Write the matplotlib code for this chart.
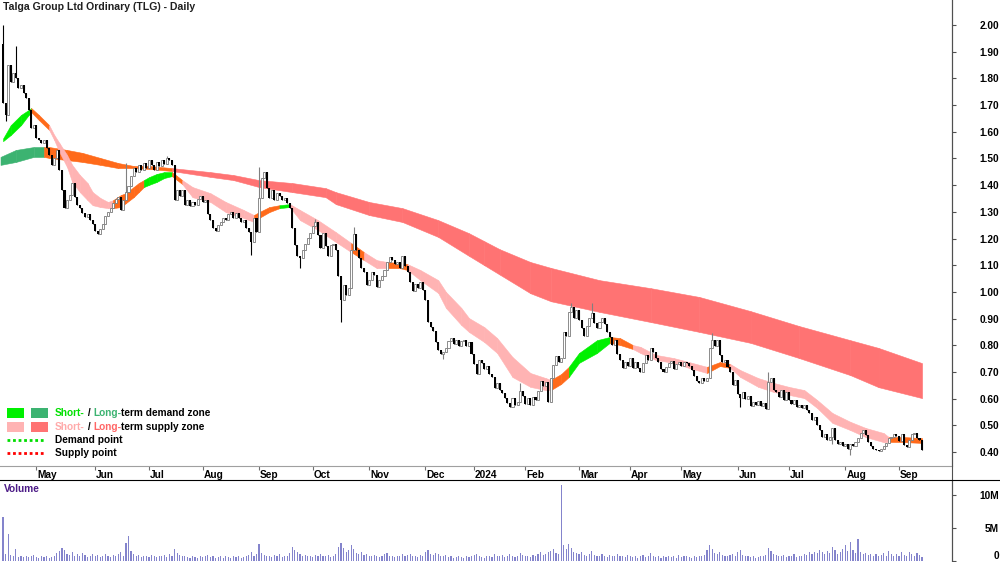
import numpy as np
import matplotlib
matplotlib.use('Agg')
import matplotlib.pyplot as plt
from matplotlib.lines import Line2D
from matplotlib.patches import Rectangle
from matplotlib.transforms import ScaledTranslation

plt.rcParams['font.family'] = ['Liberation Sans', 'DejaVu Sans']

title = 'Talga Group Ltd Ordinary (TLG) - Daily'

# daily closes (trading-day index 0 = mid April 2023)
first_open = 1.93
closes = [
    1.708, 1.663, 1.850, 1.787, 1.820, 1.800, 1.764, 1.775, 1.745, 1.727,
    1.682, 1.614, 1.625, 1.577, 1.569, 1.558, 1.569, 1.539, 1.513, 1.476,
    1.502, 1.532, 1.457, 1.382, 1.314, 1.344, 1.363, 1.408, 1.355, 1.325,
    1.314, 1.295, 1.280, 1.292, 1.270, 1.255, 1.228, 1.217, 1.235, 1.255,
    1.285, 1.300, 1.314, 1.333, 1.348, 1.355, 1.307, 1.344, 1.374, 1.397,
    1.434, 1.464, 1.449, 1.476, 1.457, 1.483, 1.464, 1.494, 1.476, 1.457,
    1.487, 1.472, 1.494, 1.479, 1.502, 1.494, 1.476, 1.344, 1.382, 1.359,
    1.382, 1.325, 1.344, 1.322, 1.337, 1.325, 1.348, 1.359, 1.337, 1.344,
    1.292, 1.270, 1.239, 1.228, 1.250, 1.262, 1.277, 1.270, 1.292, 1.300,
    1.277, 1.295, 1.277, 1.262, 1.270, 1.239, 1.224, 1.187, 1.277, 1.224,
    1.352, 1.427, 1.449, 1.389, 1.352, 1.382, 1.344, 1.370, 1.359, 1.344,
    1.352, 1.333, 1.314, 1.239, 1.176, 1.134, 1.127, 1.157, 1.179, 1.202,
    1.220, 1.247, 1.262, 1.213, 1.164, 1.220, 1.172, 1.134, 1.176, 1.179,
    1.157, 1.059, 0.969, 1.026, 0.988, 1.015, 1.157, 1.217, 1.157, 1.127,
    1.089, 1.074, 1.026, 1.044, 1.074, 1.063, 1.018, 1.044, 1.059, 1.082,
    1.112, 1.131, 1.119, 1.104, 1.112, 1.089, 1.134, 1.097, 1.074, 1.037,
    1.003, 1.029, 1.015, 1.037, 1.007, 0.969, 0.887, 0.868, 0.853, 0.812,
    0.782, 0.767, 0.775, 0.790, 0.816, 0.827, 0.805, 0.819, 0.797, 0.816,
    0.819, 0.797, 0.812, 0.767, 0.730, 0.692, 0.745, 0.734, 0.711, 0.722,
    0.692, 0.681, 0.640, 0.659, 0.632, 0.621, 0.602, 0.584, 0.569, 0.602,
    0.576, 0.587, 0.629, 0.610, 0.580, 0.602, 0.576, 0.606, 0.595, 0.629,
    0.666, 0.647, 0.662, 0.587, 0.677, 0.726, 0.760, 0.737, 0.752, 0.850,
    0.835, 0.925, 0.943, 0.902, 0.932, 0.894, 0.864, 0.835, 0.872, 0.902,
    0.921, 0.883, 0.864, 0.887, 0.902, 0.879, 0.850, 0.831, 0.801, 0.819,
    0.767, 0.745, 0.715, 0.737, 0.722, 0.752, 0.715, 0.737, 0.715, 0.700,
    0.734, 0.764, 0.745, 0.790, 0.775, 0.752, 0.737, 0.711, 0.700, 0.718,
    0.734, 0.741, 0.711, 0.730, 0.737, 0.722, 0.737, 0.734, 0.722, 0.707,
    0.685, 0.666, 0.659, 0.677, 0.666, 0.677, 0.790, 0.819, 0.797, 0.819,
    0.764, 0.737, 0.745, 0.718, 0.700, 0.651, 0.670, 0.617, 0.602, 0.625,
    0.599, 0.610, 0.572, 0.587, 0.576, 0.591, 0.572, 0.584, 0.561, 0.662,
    0.677, 0.632, 0.625, 0.606, 0.632, 0.595, 0.625, 0.595, 0.580, 0.595,
    0.569, 0.576, 0.565, 0.576, 0.557, 0.546, 0.520, 0.531, 0.501, 0.482,
    0.456, 0.467, 0.445, 0.456, 0.490, 0.445, 0.430, 0.437, 0.422, 0.430,
    0.411, 0.430, 0.422, 0.437, 0.452, 0.471, 0.482, 0.463, 0.437, 0.422,
    0.411, 0.407, 0.404, 0.411, 0.422, 0.434, 0.452, 0.456, 0.467, 0.460,
    0.441, 0.467, 0.426, 0.419, 0.445, 0.467, 0.471, 0.452, 0.445, 0.407,
]
# long wicks that stand out
wick_high = {0: 2.00, 5: 1.92, 48: 1.483, 64: 1.51, 100: 1.468, 122: 1.275,
             137: 1.243, 202: 0.659, 222: 0.958, 230: 0.958, 277: 0.846, 299: 0.70}
wick_low = {1: 1.64, 97: 1.138, 116: 1.09, 132: 0.887, 172: 0.75, 288: 0.569,
            324: 0.43, 331: 0.389}

# volume in millions
volume_m = [
    6.7, 1.0, 4.1, 0.9, 0.8, 1.8, 0.6, 0.8, 0.6, 0.7, 0.6, 0.7, 0.9, 0.6, 0.5, 0.7, 0.6, 0.8, 0.5, 0.6,
    0.7, 1.2, 1.5, 2.0, 1.6, 1.1, 0.9, 1.3, 0.8, 1.0, 0.7, 1.2, 0.9, 0.6, 0.8, 1.0, 0.7, 0.9, 0.6, 0.8,
    1.1, 0.7, 0.6, 0.9, 0.7, 1.0, 1.4, 0.8, 2.7, 3.8, 1.5, 1.0, 0.7, 0.9, 0.6, 0.8, 0.7, 0.6, 0.9, 0.7,
    0.6, 0.8, 0.7, 0.9, 0.6, 1.0, 0.8, 1.8, 1.2, 0.9, 0.7, 0.8, 0.6, 0.5, 0.7, 0.6, 0.5, 0.8, 0.6, 0.7,
    0.9, 0.6, 0.7, 0.5, 0.6, 0.8, 0.5, 0.7, 0.6, 0.5, 0.7, 0.6, 0.8, 0.5, 0.6, 0.7, 0.9, 1.3, 0.8, 1.0,
    2.6, 1.2, 0.9, 0.7, 0.8, 0.6, 0.9, 0.7, 1.0, 0.6, 0.7, 0.8, 1.2, 2.1, 1.6, 1.3, 1.0, 0.8, 0.9, 0.7,
    0.8, 0.6, 0.9, 0.7, 1.1, 0.8, 0.7, 0.9, 0.6, 0.8, 1.0, 2.2, 2.8, 1.9, 1.4, 1.6, 2.5, 1.8, 1.2, 1.0,
    1.3, 0.9, 1.1, 0.8, 0.7, 0.9, 0.8, 0.6, 0.7, 1.0, 1.2, 0.8, 0.7, 0.6, 0.8, 0.7, 1.0, 0.8, 0.9, 1.1,
    0.8, 0.7, 0.6, 0.9, 0.8, 1.3, 1.6, 1.0, 0.9, 1.2, 1.0, 0.8, 0.7, 0.9, 0.6, 0.7, 0.5, 0.6, 0.8, 0.6,
    0.5, 0.7, 0.6, 0.8, 0.9, 1.0, 0.7, 0.6, 0.5, 0.7, 0.8, 0.6, 1.0, 0.8, 0.7, 0.9, 0.6, 0.8, 1.1, 0.7,
    0.6, 0.8, 1.2, 0.9, 0.7, 0.8, 0.6, 0.9, 0.7, 1.0, 1.4, 0.9, 1.1, 1.3, 1.5, 1.8, 1.2, 1.0, 11.5, 2.4,
    1.8, 2.6, 1.9, 1.4, 1.2, 1.0, 1.3, 0.9, 0.8, 1.1, 1.5, 0.9, 0.8, 0.7, 1.0, 0.8, 0.6, 0.9, 0.7, 0.8,
    1.0, 0.7, 0.8, 0.6, 0.9, 0.7, 0.6, 0.8, 0.5, 0.7, 0.9, 0.6, 0.8, 1.2, 0.7, 0.6, 0.8, 0.5, 0.7, 0.6,
    0.8, 0.6, 0.7, 0.5, 0.9, 0.6, 0.7, 0.8, 0.6, 0.5, 0.7, 0.6, 0.8, 0.7, 0.9, 1.6, 2.5, 1.8, 1.2, 1.0,
    1.4, 0.9, 0.8, 0.7, 0.9, 1.1, 0.8, 1.3, 1.6, 0.9, 0.7, 0.8, 0.6, 0.7, 0.5, 0.6, 0.8, 0.7, 0.9, 2.0,
    1.5, 1.1, 0.9, 0.8, 0.7, 0.9, 0.6, 0.8, 0.7, 1.0, 0.6, 0.8, 0.7, 1.1, 0.9, 1.3, 1.0, 1.4, 1.2, 1.6,
    1.3, 1.0, 1.5, 1.2, 2.2, 1.6, 1.1, 1.3, 1.8, 2.4, 1.5, 2.9, 1.7, 1.2, 3.4, 1.4, 1.0, 1.2, 0.9, 1.1,
    0.8, 1.0, 0.7, 0.9, 1.2, 0.8, 1.5, 1.0, 0.7, 1.1, 0.8, 1.3, 0.9, 0.7, 1.4, 1.0, 0.8, 1.2, 0.9, 0.6,
]

month_idx = [13, 36, 57, 78, 100, 121, 143, 165, 184, 204, 225, 245, 265, 287, 307, 329, 350]
month_labels = ['May', 'Jun', 'Jul', 'Aug', 'Sep', 'Oct', 'Nov', 'Dec', '2024',
                'Feb', 'Mar', 'Apr', 'May', 'Jun', 'Jul', 'Aug', 'Sep']

# short-term zone edges, sampled every few days; state: g demand, o neutral, p supply
short_idx = [0, 3, 7, 10, 11, 14, 18, 20, 22, 25,
             27, 30, 33, 35, 38, 41, 43, 46, 48, 51,
             53, 55, 57, 60, 63, 66, 68, 70, 74, 81,
             87, 94, 98, 100, 104, 108, 112, 116, 123, 130,
             136, 141, 146, 150, 155, 158, 163, 170, 173, 179,
             182, 188, 193, 199, 206, 212, 214, 218, 221, 225,
             232, 237, 241, 246, 249, 255, 262, 268, 275, 280,
             284, 288, 295, 301, 307, 313, 318, 324, 331, 337,
             344, 346, 352, 359]
short_top = [1.575, 1.625, 1.663, 1.682, 1.689, 1.663, 1.625, 1.588, 1.558, 1.513,
             1.476, 1.438, 1.408, 1.374, 1.352, 1.337, 1.344, 1.363, 1.370, 1.393,
             1.408, 1.419, 1.430, 1.442, 1.449, 1.449, 1.434, 1.419, 1.393, 1.370,
             1.337, 1.307, 1.288, 1.299, 1.318, 1.325, 1.329, 1.307, 1.269, 1.224,
             1.183, 1.149, 1.119, 1.112, 1.108, 1.104, 1.082, 1.044, 1.000, 0.940,
             0.902, 0.868, 0.827, 0.756, 0.696, 0.677, 0.670, 0.692, 0.719, 0.771,
             0.819, 0.831, 0.827, 0.801, 0.794, 0.764, 0.752, 0.737, 0.719, 0.737,
             0.730, 0.707, 0.677, 0.659, 0.644, 0.632, 0.595, 0.546, 0.513, 0.490,
             0.471, 0.456, 0.456, 0.452]
short_bot = [1.565, 1.588, 1.625, 1.663, 1.674, 1.644, 1.607, 1.569, 1.524, 1.468,
             1.412, 1.374, 1.344, 1.325, 1.318, 1.314, 1.314, 1.318, 1.333, 1.355,
             1.374, 1.393, 1.401, 1.412, 1.427, 1.434, 1.419, 1.404, 1.355, 1.337,
             1.299, 1.277, 1.262, 1.277, 1.299, 1.314, 1.318, 1.269, 1.232, 1.187,
             1.149, 1.119, 1.089, 1.089, 1.089, 1.082, 1.044, 0.996, 0.940, 0.876,
             0.850, 0.812, 0.771, 0.681, 0.644, 0.632, 0.632, 0.655, 0.681, 0.734,
             0.771, 0.809, 0.801, 0.786, 0.771, 0.745, 0.734, 0.715, 0.696, 0.722,
             0.715, 0.681, 0.644, 0.625, 0.614, 0.602, 0.565, 0.509, 0.482, 0.456,
             0.437, 0.437, 0.437, 0.434]
short_state = ('ggggoopppp' 'ppppppoooo' 'oggggooppp' 'ppooogpppp' 'oppooppppp'
               'ppppppoogg' 'goopppppoo' 'pppppppppp' 'pooo')

# long-term zone edges; state: d demand, o neutral, r supply
long_idx = [-1, 5, 12, 16, 18, 25, 31, 38, 45, 51,
            57, 66, 81, 90, 100, 113, 126, 130, 143, 156,
            170, 182, 188, 194, 206, 214, 233, 253, 272, 292,
            311, 331, 342, 359]
long_top = [1.506, 1.532, 1.543, 1.543, 1.543, 1.532, 1.521, 1.502, 1.483, 1.472,
            1.472, 1.464, 1.449, 1.438, 1.419, 1.408, 1.389, 1.374, 1.337, 1.314,
            1.269, 1.220, 1.190, 1.160, 1.112, 1.090, 1.044, 1.014, 0.981, 0.928,
            0.872, 0.819, 0.790, 0.733]
long_bot = [1.476, 1.487, 1.506, 1.506, 1.502, 1.494, 1.487, 1.476, 1.464, 1.464,
            1.461, 1.453, 1.431, 1.419, 1.393, 1.374, 1.355, 1.329, 1.288, 1.262,
            1.206, 1.135, 1.100, 1.065, 0.995, 0.965, 0.925, 0.887, 0.850, 0.809,
            0.752, 0.688, 0.643, 0.602]
long_state = 'dddooooooo' 'orrrrrrrrr' 'rrrrrrrrrr' 'rrrr'

zone_colors = {'g': '#00f000', 'p': '#ffb3b3', 'o': '#ff6a1a',
               'd': '#3cb371', 'r': '#ff7373'}

W, H = 1000, 562
fig = plt.figure(figsize=(W / 100, H / 100), dpi=100)
ax = fig.add_axes([0, 1 - 466 / H, 952 / W, 466 / H])
axv = fig.add_axes([0, 1 - 561 / H, 952 / W, 81 / H])

font = dict(fontsize=7.3, fontweight='bold')


def draw_zone(idx, top, bot, state):
    for k in range(len(idx) - 1):
        c = zone_colors[state[k]]
        ax.fill_between(idx[k:k + 2], top[k:k + 2], bot[k:k + 2],
                        facecolor=c, edgecolor=c, lw=0.4, zorder=1)


draw_zone(long_idx, long_top, long_bot, long_state)
draw_zone(short_idx, short_top, short_bot, short_state)

# candles
closes = np.array(closes)
opens = np.r_[first_open, closes[:-1]]
days = np.arange(len(closes))
highs = np.maximum(opens, closes)
lows = np.minimum(opens, closes)
for k, v in wick_high.items():
    highs[k] = v
for k, v in wick_low.items():
    lows[k] = v
up = closes >= opens
ax.vlines(days[up], lows[up], highs[up], color='#808080', lw=0.8, zorder=3)
ax.vlines(days[~up], lows[~up], highs[~up], color='black', lw=0.8, zorder=3)
ax.bar(days[up], (closes - opens)[up], bottom=opens[up], width=0.8,
       facecolor='white', edgecolor='#7a7a7a', lw=0.6, zorder=4)
ax.bar(days[~up], (opens - closes)[~up], bottom=closes[~up], width=0.8,
       color='black', lw=0, zorder=4)

ax.set_xlim(-1.2, 370.7)
ax.set_ylim(0.3475, 2.094)
axv.set_xlim(-1.2, 370.7)
axv.set_ylim(0, 12.3)

axv.bar(days, volume_m, width=0.45, color='#8484cc', lw=0)

# axes styling
for a in (ax, axv):
    for s in ('left', 'top', 'bottom'):
        a.spines[s].set_visible(False)
    a.spines['right'].set_color('#505050')
    a.yaxis.tick_right()
    a.tick_params(axis='y', direction='out', length=3, width=0.8,
                  color='#505050', pad=0, labelsize=7.3)
ax.spines['bottom'].set_visible(True)
ax.spines['bottom'].set_color('#a0a0a0')

price_ticks = np.round(np.arange(0.4, 2.001, 0.1), 2)
ax.set_yticks(price_ticks)
ax.set_yticklabels([f'{t:.2f}' for t in price_ticks], fontweight='bold')
axv.set_yticks([0, 5, 10])
axv.set_yticklabels(['0', '5M', '10M'], fontweight='bold')
for a in (ax, axv):
    for lab in a.get_yticklabels():
        lab.set_horizontalalignment('right')
        lab.set_transform(lab.get_transform() + ScaledTranslation(0.43, 0, fig.dpi_scale_trans))
# keep the zero label inside the picture
zero_lab = axv.get_yticklabels()[0]
zero_lab.set_verticalalignment('bottom')

ax.set_xticks(month_idx)
ax.set_xticklabels(month_labels, fontsize=7.3, fontweight='bold')
ax.tick_params(axis='x', direction='out', length=3, width=0.8, color='#707070', pad=0)
for lab in ax.get_xticklabels():
    lab.set_horizontalalignment('left')
    lab.set_transform(lab.get_transform() + ScaledTranslation(0.01, 0, fig.dpi_scale_trans))
axv.set_xticks([])

# frame lines
fig.add_artist(Line2D([952 / W, 952 / W], [0, 1], color='#505050', lw=0.8))
fig.add_artist(Line2D([0, 1], [1 - 480 / H, 1 - 480 / H], color='black', lw=0.8))

fig.text(3 / W, 1 - 7 / H, title, va='center', ha='left', color='#202020',
         fontsize=7.6, fontweight='bold')
fig.text(4 / W, 1 - 489 / H, 'Volume', va='center', ha='left', color='#4b1a86', **font)


# legend
def fpx(x, y):
    return x / W, 1 - y / H


def colored_line(x, y, parts):
    t = ax.annotate(parts[0][0], xy=fpx(x, y), xycoords='figure fraction',
                    va='center', ha='left', color=parts[0][1], annotation_clip=False, **font)
    for s, c in parts[1:]:
        t = ax.annotate(s, xy=(1, 0), xycoords=t, va='bottom', ha='left', color=c,
                        annotation_clip=False, **font)


for (x0, y0, c) in [(7, 408, zone_colors['g']), (31, 408, zone_colors['d']),
                    (7, 422, zone_colors['p']), (31, 422, zone_colors['r'])]:
    fig.add_artist(Rectangle(fpx(x0, y0 + 10), 17 / W, 10 / H, transform=fig.transFigure,
                             facecolor=c, edgecolor='none'))
colored_line(55, 413, [('Short-', '#00e000'), (' / ', 'black'), ('Long-', '#3cb371'),
                       ('term demand zone', 'black')])
colored_line(55, 427, [('Short-', '#ffaaaa'), (' / ', 'black'), ('Long-', '#ff6666'),
                       ('term supply zone', 'black')])
colored_line(55, 440, [('Demand point', 'black')])
colored_line(55, 453, [('Supply point', 'black')])
for y0, c in [(440, '#00dd00'), (453, '#ff0000')]:
    fig.add_artist(Line2D([7 / W, 44 / W], [1 - y0 / H] * 2, color=c, lw=2,
                          linestyle=(0, (1, 1))))

fig.savefig('out.png', dpi=100)
